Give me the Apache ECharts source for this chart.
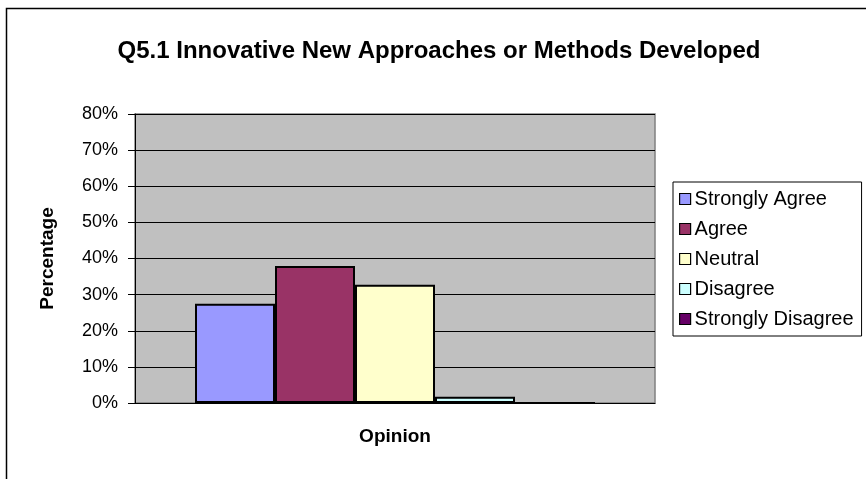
<!DOCTYPE html>
<html>
<head>
<meta charset="utf-8">
<script src="https://cdn.jsdelivr.net/npm/echarts@6/dist/echarts.min.js"></script>
<style>
  html, body { margin: 0; padding: 0; background: #fff; }
  #chart { width: 866px; height: 479px; }
</style>
</head>
<body>
<div id="chart"></div>
<script>
// Survey responses (percent of respondents) for question Q5.1
const categories = ['Opinion'];
const opinions = ['Strongly Agree', 'Agree', 'Neutral', 'Disagree', 'Strongly Disagree'];
const percentages = [27.5, 37.9, 32.7, 1.7, 0];
const colors = ['#9999FF', '#993366', '#FFFFCC', '#CCFFFF', '#660066'];
const yTicks = [0, 10, 20, 30, 40, 50, 60, 70, 80];

const FONT = "'Liberation Sans', Arial, sans-serif";

const chart = echarts.init(document.getElementById('chart'), null, { renderer: 'canvas' });

const series = opinions.map((name, i) => ({
  name: name,
  type: 'bar',
  data: [percentages[i]],
  barWidth: 80,
  barGap: '0%',
  itemStyle: { color: colors[i], borderColor: '#000', borderWidth: 2 },
  emphasis: { disabled: true }
}));

chart.setOption({
  animation: false,
  backgroundColor: '#fff',
  textStyle: { fontFamily: FONT },
  title: {
    text: 'Q5.1 Innovative New Approaches or Methods Developed',
    left: 434,
    textAlign: 'center',
    top: 34,
    textStyle: { fontFamily: FONT, fontSize: 24, fontWeight: 'bold', color: '#000' }
  },
  graphic: [{
    type: 'rect',
    shape: { x: 6.5, y: 8.5, width: 900, height: 500 },
    style: { fill: 'none', stroke: '#000', lineWidth: 1.5 },
    silent: true
  }],
  legend: {
    orient: 'vertical',
    left: 673,
    top: 182,
    padding: [7, 8, 7, 6],
    itemGap: 10,
    itemWidth: 11,
    itemHeight: 11,
    icon: 'rect',
    borderColor: '#000',
    borderWidth: 1,
    backgroundColor: '#fff',
    itemStyle: { borderColor: '#000', borderWidth: 1.2 },
    textStyle: { fontFamily: FONT, fontSize: 20, lineHeight: 20, color: '#000', padding: [0, 0, 0, -1] },
    data: opinions
  },
  grid: {
    left: 135,
    right: 211,
    top: 114,
    bottom: 76,
    show: true,
    backgroundColor: '#C0C0C0',
    borderColor: '#808080',
    borderWidth: 1.5
  },
  xAxis: {
    type: 'category',
    data: categories,
    name: 'Opinion',
    nameLocation: 'middle',
    nameGap: 24,
    nameTextStyle: { fontFamily: FONT, fontSize: 19, fontWeight: 'bold', color: '#000' },
    axisLine: { lineStyle: { color: '#000', width: 1 } },
    axisTick: { show: false },
    axisLabel: { show: false }
  },
  yAxis: {
    type: 'value',
    min: 0,
    max: 80,
    interval: 10,
    name: 'Percentage',
    nameLocation: 'middle',
    nameRotate: 90,
    nameGap: 78,
    nameTextStyle: { fontFamily: FONT, fontSize: 19, fontWeight: 'bold', color: '#000' },
    axisLine: { show: true, lineStyle: { color: '#000', width: 1 } },
    axisTick: { show: true, length: 7, lineStyle: { color: '#000' } },
    axisLabel: {
      margin: 17,
      fontFamily: FONT,
      fontSize: 18,
      color: '#000',
      formatter: v => yTicks.includes(v) ? v + '%' : ''
    },
    splitLine: { show: true, lineStyle: { color: '#000', width: 1 } }
  },
  series: series
});
</script>
</body>
</html>
